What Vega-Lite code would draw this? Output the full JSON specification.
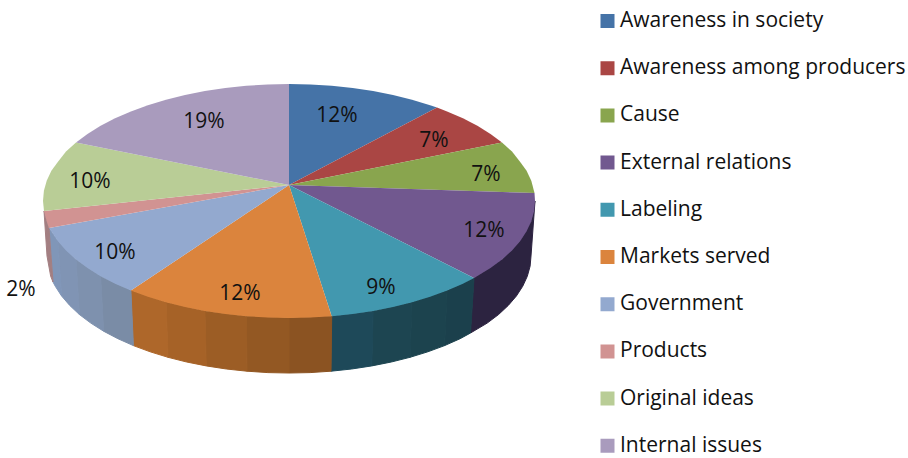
{"$schema":"https://vega.github.io/schema/vega-lite/v6.json","width":908,"height":458,"padding":0,"autosize":"none","background":"white","view":{"stroke":null},"projection":{"type":"identity","scale":1,"translate":[0,0]},"config":{"text":{"font":"Open Sans"},"legend":{"labelFont":"Open Sans"}},"datasets":{"slices":[
{"type":"Feature","properties":{"name":"Awareness in society","share":0.12,"lx":337,"ly":114},"geometry":{"type":"Polygon","coordinates":[[[289,185],[289,84],[310.4,84.4],[331.7,85.8],[352.7,88],[373.1,91.1],[393,95],[412,99.7],[430.1,105.2],[437,107.5],[289,185]]]}},
{"type":"Feature","properties":{"name":"Awareness among producers","share":0.07,"lx":434,"ly":139},"geometry":{"type":"Polygon","coordinates":[[[289,185],[437,107.5],[447.1,111.4],[462.9,118.3],[477.4,125.8],[490.5,133.9],[502,142.5],[289,185]]]}},
{"type":"Feature","properties":{"name":"Cause","share":0.07,"lx":486,"ly":173},"geometry":{"type":"Polygon","coordinates":[[[289,185],[502,142.5],[512,151.6],[520.2,162],[526.6,170.7],[531.3,180.7],[534.5,193],[289,185]]]}},
{"type":"Feature","properties":{"name":"External relations","share":0.12,"lx":484,"ly":229},"geometry":{"type":"Polygon","coordinates":[[[289,185],[534.5,193],[535,201],[534.1,211.2],[531.3,221.3],[526.6,231.3],[520.2,241],[512,250.4],[502,259.5],[490.5,268.1],[474,278],[289,185]]]}},
{"type":"Feature","properties":{"name":"Labeling","share":0.09,"lx":381,"ly":286},"geometry":{"type":"Polygon","coordinates":[[[289,185],[474,278],[462.9,283.7],[447.1,290.6],[430.1,296.8],[412,302.3],[393,307],[373.1,310.9],[352.7,314],[331.7,316.2],[289,185]]]}},
{"type":"Feature","properties":{"name":"Markets served","share":0.12,"lx":240,"ly":292},"geometry":{"type":"Polygon","coordinates":[[[289,185],[331.7,316.2],[310.4,317.6],[289,318],[267.6,317.6],[246.3,316.2],[225.3,314],[204.9,310.9],[185,307],[166,302.3],[147.9,296.8],[130.9,290.6],[289,185]]]}},
{"type":"Feature","properties":{"name":"Government","share":0.10,"lx":115,"ly":251},"geometry":{"type":"Polygon","coordinates":[[[289,185],[130.9,290.6],[115.1,283.7],[100.6,276.2],[87.5,268.1],[76,259.5],[66,250.4],[57.8,241],[51.4,231.3],[49,228],[289,185]]]}},
{"type":"Feature","properties":{"name":"Products","share":0.02,"lx":21,"ly":288},"geometry":{"type":"Polygon","coordinates":[[[289,185],[49,228],[46.7,221.3],[44,211],[289,185]]]}},
{"type":"Feature","properties":{"name":"Original ideas","share":0.10,"lx":90,"ly":180},"geometry":{"type":"Polygon","coordinates":[[[289,185],[44,211],[43,201],[43.9,190.8],[46.7,180.7],[51.4,170.7],[57.8,162],[66,151.6],[76,142.5],[289,185]]]}},
{"type":"Feature","properties":{"name":"Internal issues","share":0.19,"lx":204,"ly":120},"geometry":{"type":"Polygon","coordinates":[[[289,185],[76,142.5],[87.5,133.9],[100.6,125.8],[115.1,118.3],[130.9,111.4],[147.9,105.2],[166,99.7],[185,95],[204.9,91.1],[225.3,88],[246.3,85.8],[267.6,84.4],[289,84],[289,185]]]}}
],"walls":[
{"type":"Feature","properties":{"band":"p"},"geometry":{"type":"Polygon","coordinates":[[[535,201],[531.3,221.3],[520.2,241],[502,259.5],[474,278],[470.5,333],[487.2,323.1],[498.6,314.5],[508.3,305.4],[516.4,296],[522.7,286.3],[527.3,276.3],[530.1,266.2],[531,256],[535,201]]]}},
{"type":"Feature","properties":{"band":"t1"},"geometry":{"type":"Polygon","coordinates":[[[474,278],[447.1,290.6],[444.6,345.6],[460.1,338.7],[470.5,333],[474,278]]]}},
{"type":"Feature","properties":{"band":"t2"},"geometry":{"type":"Polygon","coordinates":[[[447.1,290.6],[412,302.3],[410,357.3],[427.8,351.8],[444.6,345.6],[447.1,290.6]]]}},
{"type":"Feature","properties":{"band":"t3"},"geometry":{"type":"Polygon","coordinates":[[[412,302.3],[373.1,310.9],[371.8,365.9],[391.3,362],[410,357.3],[412,302.3]]]}},
{"type":"Feature","properties":{"band":"t4"},"geometry":{"type":"Polygon","coordinates":[[[373.1,310.9],[331.7,316.2],[331,371.2],[351.6,369],[371.8,365.9],[373.1,310.9]]]}},
{"type":"Feature","properties":{"band":"o1"},"geometry":{"type":"Polygon","coordinates":[[[331.7,316.2],[289,318],[289,373],[310.1,372.6],[331,371.2],[331.7,316.2]]]}},
{"type":"Feature","properties":{"band":"o2"},"geometry":{"type":"Polygon","coordinates":[[[289,318],[246.3,316.2],[247,371.2],[267.9,372.6],[289,373],[289,318]]]}},
{"type":"Feature","properties":{"band":"o3"},"geometry":{"type":"Polygon","coordinates":[[[246.3,316.2],[204.9,310.9],[206.2,365.9],[226.4,369],[247,371.2],[246.3,316.2]]]}},
{"type":"Feature","properties":{"band":"o4"},"geometry":{"type":"Polygon","coordinates":[[[204.9,310.9],[166,302.3],[168,357.3],[186.7,362],[206.2,365.9],[204.9,310.9]]]}},
{"type":"Feature","properties":{"band":"o5"},"geometry":{"type":"Polygon","coordinates":[[[166,302.3],[130.9,290.6],[133.4,345.6],[150.2,351.8],[168,357.3],[166,302.3]]]}},
{"type":"Feature","properties":{"band":"g1"},"geometry":{"type":"Polygon","coordinates":[[[130.9,290.6],[100.6,276.2],[103.6,331.2],[117.9,338.7],[133.4,345.6],[130.9,290.6]]]}},
{"type":"Feature","properties":{"band":"g2"},"geometry":{"type":"Polygon","coordinates":[[[100.6,276.2],[76,259.5],[79.4,314.5],[90.8,323.1],[103.6,331.2],[100.6,276.2]]]}},
{"type":"Feature","properties":{"band":"g3"},"geometry":{"type":"Polygon","coordinates":[[[76,259.5],[57.8,241],[61.6,296],[69.7,305.4],[79.4,314.5],[76,259.5]]]}},
{"type":"Feature","properties":{"band":"g4"},"geometry":{"type":"Polygon","coordinates":[[[57.8,241],[49,228],[53,282],[55.3,286.3],[61.6,296],[57.8,241]]]}},
{"type":"Feature","properties":{"band":"k"},"geometry":{"type":"Polygon","coordinates":[[[49,228],[44,211],[47,256],[50.7,276.3],[53,282],[49,228]]]}}
]},
"layer":[
{"data":{"name":"walls"},"mark":{"type":"geoshape","strokeWidth":1},"encoding":{
"fill":{"field":"properties.band","type":"nominal","legend":null,"scale":{"domain":["p","t1","t2","t3","t4","o1","o2","o3","o4","o5","g1","g2","g3","g4","k"],"range":["#2c2340","#1b404c","#1c434e","#1d4551","#1e4959","#8b5322","#935823","#9c5d25","#a66227","#ae672a","#7a8ca6","#7e91ae","#8094b4","#8096b8","#a37f82"]}},
"stroke":{"field":"properties.band","type":"nominal","legend":null,"scale":{"domain":["p","t1","t2","t3","t4","o1","o2","o3","o4","o5","g1","g2","g3","g4","k"],"range":["#2c2340","#1b404c","#1c434e","#1d4551","#1e4959","#8b5322","#935823","#9c5d25","#a66227","#ae672a","#7a8ca6","#7e91ae","#8094b4","#8096b8","#a37f82"]}}
}},
{"data":{"name":"slices"},"mark":{"type":"geoshape"},"encoding":{
"color":{"field":"properties.name","type":"nominal","scale":{"domain":["Awareness in society","Awareness among producers","Cause","External relations","Labeling","Markets served","Government","Products","Original ideas","Internal issues"],"range":["#4573a7","#aa4644","#89a54e","#71588f","#4298af","#db843d","#93a9cf","#d19392","#b9cd96","#a99bbd"]},
"legend":{"title":null,"orient":"none","legendX":597,"legendY":11,"symbolType":"square","symbolSize":196,"symbolOpacity":1,"symbolStrokeWidth":0,"labelFontSize":21,"labelOffset":2,"labelColor":"#111111","clipHeight":20,"rowPadding":26.2,"labelLimit":320,"padding":0}}
}},
{"data":{"name":"slices"},"mark":{"type":"text","fontSize":21,"color":"#111111","dy":1.5},"encoding":{
"longitude":{"field":"properties.lx","type":"quantitative"},
"latitude":{"field":"properties.ly","type":"quantitative"},
"text":{"field":"properties.share","type":"quantitative","format":".0%"}
}}
],"resolve":{"scale":{"fill":"independent","stroke":"independent"}}}
